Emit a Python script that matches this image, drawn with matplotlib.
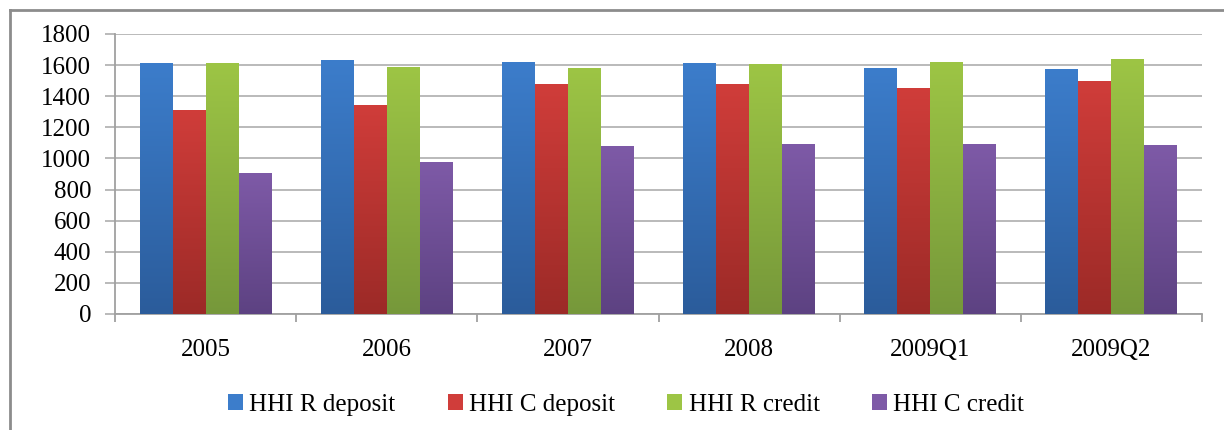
import numpy as np
import matplotlib
matplotlib.use("Agg")
import matplotlib.pyplot as plt
from matplotlib.patches import Patch
from matplotlib.colors import LinearSegmentedColormap
from matplotlib.lines import Line2D

# datos
categorias = ["2005", "2006", "2007", "2008", "2009Q1", "2009Q2"]
hhi_r_deposit = [1614, 1636, 1620, 1611, 1579, 1573]
hhi_c_deposit = [1314, 1345, 1481, 1481, 1453, 1500]
hhi_r_credit = [1614, 1586, 1583, 1605, 1618, 1637]
hhi_c_credit = [904, 975, 1082, 1093, 1093, 1084]

series = [
    ("HHI R deposit", hhi_r_deposit, "#3c7dcb", "#2b5c9b"),
    ("HHI C deposit", hhi_c_deposit, "#d03d3a", "#9c2a27"),
    ("HHI R credit", hhi_r_credit, "#9dc545", "#76983a"),
    ("HHI C credit", hhi_c_credit, "#7e5aa7", "#5d4282"),
]

plt.rcParams["font.family"] = ["Liberation Serif", "DejaVu Serif"]
FS = 18

fig = plt.figure(figsize=(12.24, 4.30), dpi=100)
fig.patch.set_facecolor("white")
ax = fig.add_axes([115 / 1224, 1 - 314 / 430, (1202 - 115) / 1224, 280 / 430])

# marco exterior (solo se ven arriba e izquierda)
fig.add_artist(Line2D([10 / 1224, 1.0], [1 - 10 / 430] * 2, transform=fig.transFigure,
                      color="#8c8c8c", lw=2))
fig.add_artist(Line2D([10 / 1224] * 2, [0, 1 - 10 / 430], transform=fig.transFigure,
                      color="#8c8c8c", lw=2))

x = np.arange(len(categorias))
w = 0.182
for i, (name, vals, c_top, c_bot) in enumerate(series):
    offs = (i - 1.5) * w
    bars = ax.bar(x + offs, vals, width=w, color=c_top, zorder=3, linewidth=0)
    cmap = LinearSegmentedColormap.from_list(name, [c_bot, c_top])
    grad = np.linspace(0, 1, 256).reshape(-1, 1)
    for b in bars:
        x0, y0 = b.get_x(), b.get_y()
        im = ax.imshow(grad, cmap=cmap, origin="lower", aspect="auto",
                       extent=[x0, x0 + b.get_width(), y0, y0 + b.get_height()],
                       zorder=3.5)
        im.set_clip_path(b)

ax.set_xlim(-0.5, len(categorias) - 0.5)
ax.set_ylim(0, 1800)
ax.set_yticks(np.arange(0, 1801, 200))
ax.yaxis.grid(True, color="#b4b4b4", lw=1.3, zorder=0)
ax.tick_params(axis="y", length=7.2, color="#b4b4b4", width=1.3, labelsize=FS, pad=10)

ax.set_xticks(np.arange(-0.5, len(categorias), 1))
ax.set_xticklabels([])
ax.set_xticks(x, minor=True)
ax.set_xticklabels(categorias, minor=True, fontsize=FS)
ax.tick_params(axis="x", which="major", length=6, color="#a0a0a0", width=1.3)
ax.tick_params(axis="x", which="minor", length=0, pad=18)

for s in ["top", "right"]:
    ax.spines[s].set_visible(False)
for s in ["left", "bottom"]:
    ax.spines[s].set_color("#a0a0a0")
    ax.spines[s].set_linewidth(1.3)

handles = [Patch(facecolor=c_top, edgecolor="none") for _, _, c_top, _ in series]
labels = [s[0] for s in series]
fig.legend(handles, labels, loc="center", bbox_to_anchor=(626 / 1224, 1 - 405 / 430),
           ncol=4, frameon=False, fontsize=FS, handlelength=0.6, handleheight=0.6,
           handletextpad=0.25, columnspacing=2.1)

fig.savefig("out.png", dpi=100)
plt.close(fig)
